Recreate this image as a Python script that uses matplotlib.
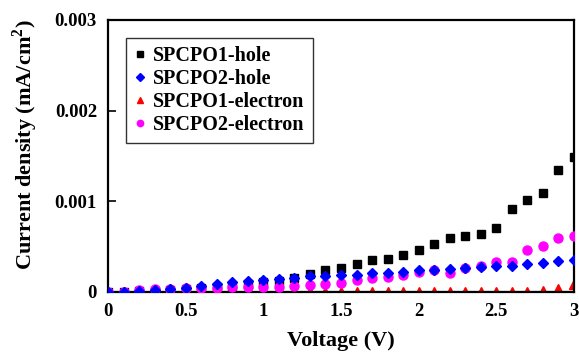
import matplotlib
matplotlib.use("Agg")
import matplotlib.pyplot as plt

voltage = [0.0, 0.1, 0.2, 0.3, 0.4, 0.5, 0.6, 0.7, 0.8, 0.9, 1.0,
           1.1, 1.2, 1.3, 1.4, 1.5, 1.6, 1.7, 1.8, 1.9, 2.0,
           2.1, 2.2, 2.3, 2.4, 2.5, 2.6, 2.7, 2.8, 2.9, 3.0]

spcpo1_hole = [0.0, 0.000005, 0.00001, 0.000015, 0.00002, 0.00003, 0.00004, 0.00005, 0.00007, 0.00009, 0.000105,
               0.000118, 0.000155, 0.000198, 0.000238, 0.000263, 0.000307, 0.000352, 0.000366, 0.000407, 0.000463,
               0.000533, 0.000592, 0.000622, 0.000644, 0.000707, 0.000918, 0.001018, 0.001088, 0.001343, 0.001484]

spcpo2_hole = [0.0, 0.000005, 0.00001, 0.00002, 0.00003, 0.000048, 0.000067, 0.000092, 0.000107, 0.000122, 0.000133,
               0.000144, 0.000155, 0.000178, 0.000181, 0.00019, 0.000192, 0.000205, 0.000215, 0.000218, 0.000238,
               0.000245, 0.000255, 0.00027, 0.000277, 0.000289, 0.000292, 0.000311, 0.000325, 0.00034, 0.000355]

spcpo1_electron = [0.0, 0.0, 0.0, 0.0, 0.0, 0.0, 0.0, 0.0, 0.0, 0.0, 0.0,
                   0.0, 0.0, 0.0, 0.0, 0.0, 0.0, 0.0, 0.0, 0.0, 0.0,
                   0.0, 0.0, 0.0, 0.0, 0.0, 0.0, 0.000003, 0.00001, 0.00003, 0.000085]

spcpo2_electron = [0.0, 0.0, 0.00002, 0.00003, 0.00003, 0.00004, 0.00004, 0.00004, 0.00005, 0.00005, 0.00006,
                   0.00005, 0.000067, 0.000074, 0.000089, 0.0001, 0.00013, 0.00015, 0.000165, 0.00019, 0.000226,
                   0.000244, 0.000211, 0.000262, 0.000288, 0.00033, 0.000328, 0.000463, 0.000503, 0.000592, 0.000618]

series_labels = ["SPCPO1-hole", "SPCPO2-hole", "SPCPO1-electron", "SPCPO2-electron"]
x_ticks = [0, 0.5, 1, 1.5, 2, 2.5, 3]
x_tick_labels = ["0", "0.5", "1", "1.5", "2", "2.5", "3"]
y_ticks = [0, 0.001, 0.002, 0.003]
y_tick_labels = ["0", "0.001", "0.002", "0.003"]

plt.rcParams['font.family'] = ['Liberation Serif', 'DejaVu Serif']
plt.rcParams['font.weight'] = 'bold'
plt.rcParams['mathtext.fontset'] = 'custom'
plt.rcParams['mathtext.rm'] = 'Liberation Serif:bold'
plt.rcParams['mathtext.bf'] = 'Liberation Serif:bold'

fig = plt.figure(figsize=(5.79, 3.61), dpi=100)
ax = fig.add_axes([108/579, 1 - 292/361, (574-108)/579, (292-20)/361])

ax.plot(voltage, [0]*len(voltage), color='black', lw=1.5, zorder=1)
ax.plot(voltage, spcpo1_electron, ls='none', marker='^', ms=6.5, color='#ff0000', label=series_labels[2], zorder=2)
ax.plot(voltage, spcpo1_hole, ls='none', marker='s', ms=6, color='black', label=series_labels[0], zorder=3)
ax.plot(voltage, spcpo2_electron, ls='none', marker='o', ms=6.5, color='#ff00ff', label=series_labels[3], zorder=4)
ax.plot(voltage, spcpo2_hole, ls='none', marker='D', ms=5.5, color='#0000ff', label=series_labels[1], zorder=5)

ax.set_xlim(0, 3)
ax.set_ylim(0, 0.003)
ax.set_xticks(x_ticks)
ax.set_xticklabels(x_tick_labels, fontsize=13.5, fontweight='bold')
ax.set_yticks(y_ticks)
ax.set_yticklabels(y_tick_labels, fontsize=13.5, fontweight='bold')
ax.tick_params(axis='both', direction='in', length=6, width=1.2, pad=8)
ax.tick_params(axis='x', length=0)
for s in ax.spines.values():
    s.set_linewidth(1.6)

ax.set_xlabel("Voltage (V)", fontsize=16, fontweight='bold', labelpad=8)
ax.set_ylabel(r"Current density (mA/cm$^{\mathbf{2}}$)", fontsize=16, fontweight='bold')
ax.yaxis.set_label_coords(-0.145, (292-145)/272)

handles, labels = ax.get_legend_handles_labels()
order = [labels.index(l) for l in series_labels]
leg = ax.legend([handles[i] for i in order], [labels[i] for i in order],
                loc='upper left', bbox_to_anchor=((126-108)/466, 1 - (38-20)/272),
                prop={'size': 14.5, 'weight': 'bold'}, frameon=True, fancybox=False,
                edgecolor='black', handlelength=0.6, handletextpad=0.35,
                borderpad=0.4, labelspacing=0.15, markerscale=0.7, borderaxespad=0)
leg.get_frame().set_linewidth(1.0)

fig.savefig("out.png", dpi=100)
